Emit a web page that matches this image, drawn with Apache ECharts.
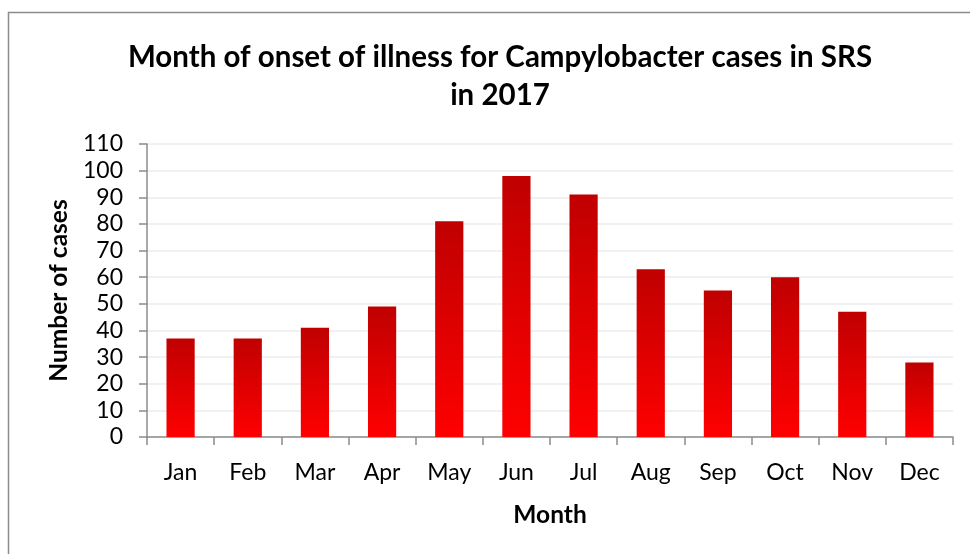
<!DOCTYPE html>
<html>
<head>
<meta charset="utf-8">
<script src="https://cdn.jsdelivr.net/npm/echarts@6/dist/echarts.min.js"></script>
<style>
  html, body { margin: 0; padding: 0; background: #fff; }
  #chart { width: 970px; height: 554px; }
</style>
</head>
<body>
<div id="chart"></div>
<script>
const months = ['Jan', 'Feb', 'Mar', 'Apr', 'May', 'Jun', 'Jul', 'Aug', 'Sep', 'Oct', 'Nov', 'Dec']
const cases = [37, 37, 41, 49, 81, 98, 91, 63, 55, 60, 47, 28]

const fontFamily = 'Lato, "Open Sans", sans-serif'

const chart = echarts.init(document.getElementById('chart'))

chart.setOption({
  animation: false,
  textStyle: { fontFamily: fontFamily },
  title: {
    text: 'Month of onset of illness for Campylobacter cases in SRS\nin 2017',
    left: 495,
    top: 33,
    textAlign: 'center',
    textStyle: { fontSize: 29.5, fontWeight: 'bold', color: '#000', lineHeight: 38, fontFamily: fontFamily }
  },
  graphic: [{
    type: 'rect',
    shape: { x: 8.5, y: 12.5, width: 1000, height: 600 },
    style: { fill: 'none', stroke: '#8c8c8c', lineWidth: 1.5 },
    silent: true
  }],
  grid: { left: 147, right: 17, top: 144, bottom: 117 },
  xAxis: {
    type: 'category',
    data: months,
    name: 'Month',
    nameLocation: 'middle',
    nameGap: 66,
    nameTextStyle: { fontSize: 24.5, fontWeight: 'bold', color: '#000' },
    axisLine: { lineStyle: { color: '#8c8c8c', width: 1.5 } },
    axisTick: { show: true, length: 8, lineStyle: { color: '#8c8c8c', width: 1.5 } },
    axisLabel: { fontSize: 23, color: '#000', margin: 24 }
  },
  yAxis: {
    type: 'value',
    min: 0,
    max: 110,
    interval: 10,
    name: 'Number of cases',
    nameLocation: 'middle',
    nameGap: 75,
    nameRotate: 90,
    nameTextStyle: { fontSize: 24.5, fontWeight: 'bold', color: '#000' },
    axisLine: { show: true, lineStyle: { color: '#8c8c8c', width: 1.5 } },
    axisTick: { show: true, length: 8, lineStyle: { color: '#8c8c8c', width: 1.5 } },
    axisLabel: { fontSize: 23, color: '#000', margin: 24 },
    splitLine: { show: true, lineStyle: { color: '#ececec', width: 1.5 } }
  },
  series: [{
    type: 'bar',
    data: cases,
    barWidth: '42%',
    itemStyle: {
      color: new echarts.graphic.LinearGradient(0, 0, 0, 1, [
        { offset: 0, color: '#c00000' },
        { offset: 1, color: '#ff0000' }
      ])
    }
  }]
})
</script>
</body>
</html>
